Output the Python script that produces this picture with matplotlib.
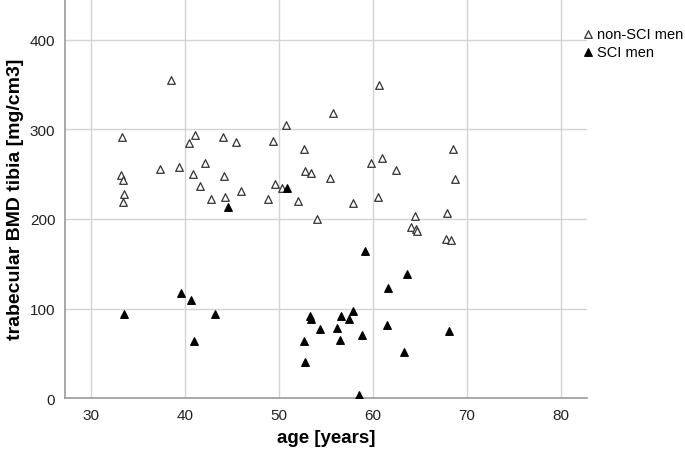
import numpy as np
import matplotlib
matplotlib.use('Agg')
import matplotlib.pyplot as plt

plt.rcParams['font.family'] = ['Liberation Sans', 'DejaVu Sans']

# non-SCI men (open triangles)
age_non = [38.5, 33.3, 41.0, 40.35, 44.0, 45.4, 49.35, 50.7, 52.6, 33.2,
           33.4, 37.3, 39.3, 42.1, 40.85, 44.15, 41.6, 33.5, 33.4, 42.7,
           44.2, 45.9, 48.85, 49.6, 50.3, 52.8, 53.4, 52.0, 54.05,
           60.6, 55.7, 68.5, 59.8, 61.0, 62.5, 55.45, 68.75, 57.85, 60.55,
           64.5, 67.85, 64.1, 64.6, 64.65, 67.8, 68.35]
bmd_non = [355, 292, 294, 285, 292, 286, 287, 305, 278, 249,
           244, 256, 258, 263, 250, 248, 237, 228, 219, 222,
           224, 231, 222, 239, 234, 253, 251, 220, 200,
           350, 318, 278, 263, 268, 255, 246, 245, 218, 224,
           203, 207, 191, 189, 186, 178, 177]

# SCI men (filled triangles)
age_sci = [50.85, 44.6, 59.1, 33.5, 39.6, 40.6, 43.2, 40.9, 53.3, 53.4,
           54.4, 52.6, 52.8, 63.6, 61.65, 56.6, 57.85, 57.45, 56.2, 58.8,
           61.45, 68.1, 56.5, 63.25, 58.5]
bmd_sci = [234, 213, 164, 94, 117, 109, 94, 64, 92, 88,
           77, 64, 40, 139, 123, 92, 97, 88, 78, 71,
           82, 75, 65, 52, 3]

fig = plt.figure(figsize=(6.85, 4.52), dpi=100)
ax = fig.add_axes([0.095, 0.117, 0.762, 0.882])

ax.scatter(age_non, bmd_non, marker='^', s=30, facecolors='white',
           edgecolors='#333333', linewidths=0.9, label='non-SCI men', zorder=3)
ax.scatter(age_sci, bmd_sci, marker='^', s=30, facecolors='black',
           edgecolors='black', linewidths=0.9, label='SCI men', zorder=3)

ax.set_xlim(27.2, 82.8)
ax.set_ylim(0, 445)
ax.set_xticks([30, 40, 50, 60, 70, 80])
ax.set_yticks([0, 100, 200, 300, 400])
ax.grid(True, color='#d4d4d4', linewidth=1)
ax.set_axisbelow(True)
for s in ['top', 'right']:
    ax.spines[s].set_visible(False)
for s in ['left', 'bottom']:
    ax.spines[s].set_color('#9a9a9a')
    ax.spines[s].set_linewidth(1.2)
ax.tick_params(length=0, labelsize=11, pad=7, colors='#222222')

ax.set_xlabel('age [years]', fontsize=13.5, fontweight='bold', labelpad=5)
ax.set_ylabel('trabecular BMD tibia [mg/cm3]', fontsize=14, fontweight='bold', labelpad=4)

ax.legend(loc='upper left', bbox_to_anchor=(582 / 685, 1 - 28 / 452),
          bbox_transform=fig.transFigure, frameon=False,
          fontsize=10.5, handletextpad=0.2, borderaxespad=0, borderpad=0,
          labelspacing=0.28, handlelength=0.8)

fig.savefig('out.png', dpi=100)
